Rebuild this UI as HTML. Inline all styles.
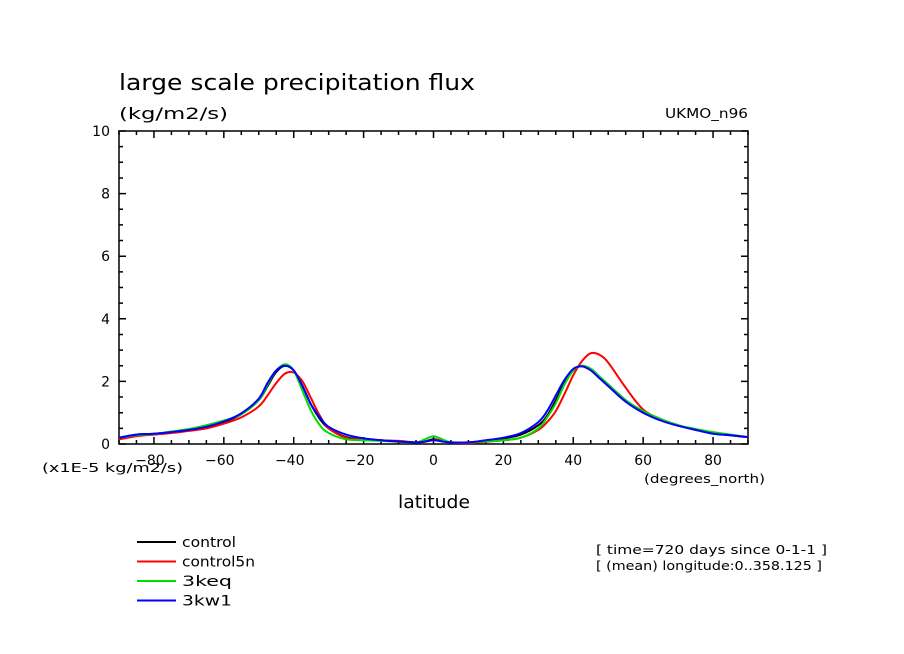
<!DOCTYPE html>
<html><head><meta charset="utf-8"><style>
body{margin:0;background:#fff;}
svg{display:block;font-family:"DejaVu Sans","Liberation Sans",sans-serif;}
</style></head><body>
<svg id="chart" width="904" height="654" viewBox="0 0 904 654">
<text x="119" y="90" font-size="22" textLength="356" lengthAdjust="spacingAndGlyphs">large scale precipitation flux</text>
<text x="119" y="119" font-size="16" textLength="109" lengthAdjust="spacingAndGlyphs">(kg/m2/s)</text>
<text x="665" y="118" font-size="13" textLength="83" lengthAdjust="spacingAndGlyphs">UKMO_n96</text>
<g id="axes"></g>
<g id="series"></g>
<text x="42" y="472" font-size="12" textLength="141" lengthAdjust="spacingAndGlyphs">(x1E-5 kg/m2/s)</text>
<text x="644" y="483" font-size="12" textLength="121" lengthAdjust="spacingAndGlyphs">(degrees_north)</text>
<text x="398" y="508" font-size="18" textLength="72" lengthAdjust="spacingAndGlyphs">latitude</text>
<g id="legend" font-size="14"></g>
<text x="596" y="554" font-size="12" textLength="231" lengthAdjust="spacingAndGlyphs">[ time=720 days since 0-1-1 ]</text>
<text x="596" y="570" font-size="12" textLength="226" lengthAdjust="spacingAndGlyphs">[ (mean) longitude:0..358.125 ]</text>
</svg>
<script>
const lats=[-90,-85,-80,-75,-70,-65,-60,-55,-50,-47.5,-45,-42.5,-40,-37.5,-35,-32.5,-30,-25,-20,-15,-10,-5,-2.5,0,2.5,5,10,15,20,25,30,32.5,35,37.5,40,42.5,45,47.5,50,55,60,65,70,75,80,85,90];
const control=[0.2,0.3,0.33,0.38,0.45,0.55,0.7,0.95,1.4,1.85,2.3,2.5,2.35,1.85,1.25,0.8,0.5,0.22,0.15,0.12,0.08,0.05,0.08,0.15,0.1,0.05,0.05,0.1,0.18,0.3,0.6,0.9,1.4,1.95,2.35,2.5,2.4,2.15,1.9,1.4,1.0,0.78,0.6,0.45,0.35,0.28,0.22];
const control5n=[0.15,0.25,0.3,0.35,0.42,0.5,0.65,0.85,1.2,1.55,1.95,2.25,2.28,2.0,1.45,0.9,0.5,0.2,0.15,0.12,0.1,0.05,0.07,0.12,0.12,0.05,0.03,0.07,0.12,0.2,0.45,0.7,1.05,1.6,2.2,2.65,2.9,2.85,2.6,1.8,1.1,0.8,0.6,0.45,0.35,0.28,0.22];
const keq3=[0.2,0.28,0.32,0.4,0.48,0.6,0.75,0.95,1.4,1.9,2.35,2.55,2.35,1.7,1.05,0.6,0.35,0.15,0.12,0.1,0.07,0.05,0.15,0.25,0.15,0.05,0.05,0.08,0.12,0.2,0.5,0.85,1.3,1.9,2.35,2.5,2.4,2.15,1.9,1.4,1.05,0.8,0.6,0.48,0.38,0.3,0.22];
const kw13=[0.2,0.3,0.33,0.38,0.45,0.55,0.72,0.98,1.45,1.95,2.35,2.5,2.35,1.85,1.25,0.85,0.55,0.3,0.18,0.12,0.08,0.05,0.08,0.12,0.08,0.05,0.05,0.12,0.2,0.35,0.7,1.05,1.55,2.05,2.4,2.48,2.35,2.1,1.85,1.35,1.0,0.75,0.58,0.45,0.33,0.28,0.22];
const xTicks=[-80,-60,-40,-20,0,20,40,60,80];
const yTicks=[0,2,4,6,8,10];
const seriesNames=["control","control5n","3keq","3kw1"];
const seriesColors=["#000000","#ff0000","#00dd00","#0000ff"];
const legendWidths=[54,73,50,50];

const X0=119,X1=748,Y0=444,Y1=131;
const xs=v=>X0+(v+90)/180*(X1-X0);
const ys=v=>Y0-v/10*(Y0-Y1);
const NS="http://www.w3.org/2000/svg";
function mk(tag,parent){const e=document.createElementNS(NS,tag);parent.appendChild(e);return e;}
function smooth(pts){let d=`M${pts[0][0].toFixed(1)},${pts[0][1].toFixed(1)}`;
for(let i=0;i<pts.length-1;i++){const p0=pts[Math.max(0,i-1)],p1=pts[i],p2=pts[i+1],p3=pts[Math.min(pts.length-1,i+2)];
const c1=[p1[0]+(p2[0]-p0[0])/6,p1[1]+(p2[1]-p0[1])/6],c2=[p2[0]-(p3[0]-p1[0])/6,p2[1]-(p3[1]-p1[1])/6];
d+=`C${c1[0].toFixed(1)},${c1[1].toFixed(1)} ${c2[0].toFixed(1)},${c2[1].toFixed(1)} ${p2[0].toFixed(1)},${p2[1].toFixed(1)}`;}
return d;}
const axes=document.getElementById('axes');
const frame=mk('rect',axes);


frame.setAttribute('x',X0);frame.setAttribute('y',Y1);frame.setAttribute('width',X1-X0);frame.setAttribute('height',Y0-Y1);
frame.setAttribute('fill','none');frame.setAttribute('stroke','#000');frame.setAttribute('stroke-width','1.5');
let d='';
for(let v=-90;v<=90;v+=5){const x=xs(v);const L=(v%20===0&&v!==-90&&v!==90)?7:4;d+=`M${x},${Y0}v${-L}M${x},${Y1}v${L}`;}
for(let v=0;v<=10;v+=0.5){const y=ys(v);const L=(Math.abs(v%2)<1e-9)?7:4;d+=`M${X0},${y}h${L}M${X1},${y}h${-L}`;}
const tk=mk('path',axes);


tk.setAttribute('d',d);tk.setAttribute('stroke','#000');tk.setAttribute('stroke-width','1.5');
xTicks.forEach(v=>{const t=mk('text',axes);


t.setAttribute('x',xs(v)-(v<0?4:0));t.setAttribute('y',465);t.setAttribute('text-anchor','middle');t.setAttribute('font-size','14');t.textContent=v<0?'\u2212'+(-v):String(v);});
yTicks.forEach(v=>{const t=mk('text',axes);


t.setAttribute('x',110);t.setAttribute('y',ys(v)+5);t.setAttribute('text-anchor','end');t.setAttribute('font-size','14');t.textContent=String(v);});
const sg=document.getElementById('series');
[control,control5n,keq3,kw13].forEach((arr,i)=>{const p=mk('path',sg);


p.setAttribute('d',smooth(arr.map((v,j)=>[xs(lats[j]),ys(v)])));
p.setAttribute('fill','none');p.setAttribute('stroke',seriesColors[i]);p.setAttribute('stroke-width','2');p.setAttribute('stroke-linejoin','round');});
const lg=document.getElementById('legend');
seriesNames.forEach((n,i)=>{const y=542+i*19.5;const g=mk('g',lg);


const l=mk('line',g);l.setAttribute('x1',137);l.setAttribute('x2',176);l.setAttribute('y1',y);l.setAttribute('y2',y);l.setAttribute('stroke',seriesColors[i]);l.setAttribute('stroke-width','2');
const t=mk('text',g);t.setAttribute('x',182);t.setAttribute('y',y+5);t.setAttribute('textLength',legendWidths[i]);t.setAttribute('lengthAdjust','spacingAndGlyphs');t.textContent=n;});
</script>
</body></html>
